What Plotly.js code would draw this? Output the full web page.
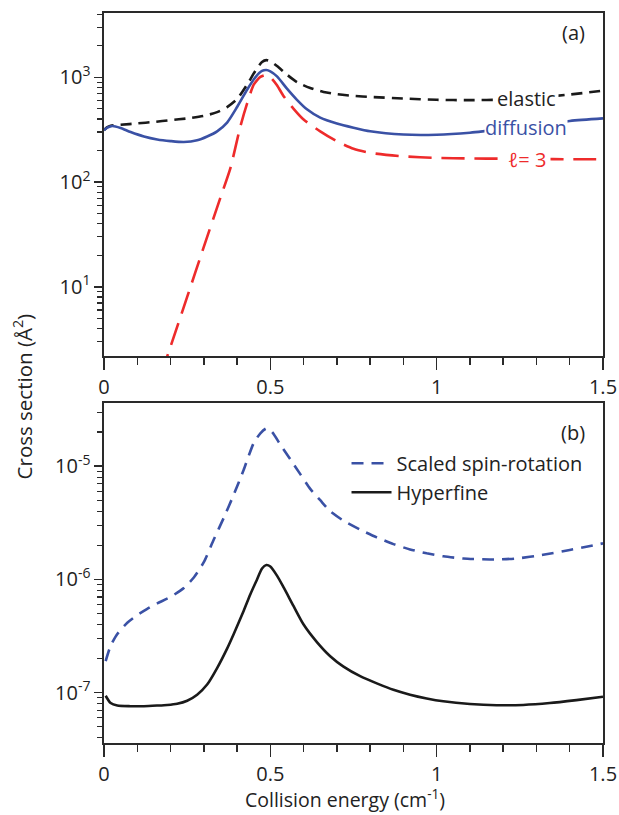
<!DOCTYPE html>
<html>
<head>
<meta charset="utf-8">
<script src="https://cdn.plot.ly/plotly-3.0.1.min.js"></script>
<style>html,body{margin:0;padding:0;background:#fff}#chart{width:619px;height:815px}</style>
</head>
<body>
<div id="chart"></div>
<script>
// ---- Panel (a) data ----
const xElastic = [0, 0.01, 0.02, 0.05, 0.1, 0.15, 0.2, 0.25, 0.3, 0.34, 0.37, 0.4, 0.43, 0.455, 0.475, 0.488, 0.5, 0.52, 0.55, 0.58, 0.62, 0.66, 0.7, 0.75, 0.8, 0.9, 1.0, 1.1, 1.2, 1.3, 1.4, 1.5];
const elastic  = [314, 335, 345, 352, 363, 375, 390, 405, 428, 465, 520, 620, 850, 1150, 1400, 1460, 1420, 1280, 1060, 900, 790, 725, 690, 665, 650, 628, 610, 605, 612, 640, 685, 745];

const xDiffusion = [0, 0.01, 0.025, 0.05, 0.08, 0.12, 0.16, 0.2, 0.24, 0.28, 0.31, 0.34, 0.37, 0.4, 0.43, 0.455, 0.475, 0.488, 0.5, 0.52, 0.55, 0.58, 0.61, 0.65, 0.7, 0.75, 0.8, 0.9, 1.0, 1.1, 1.2, 1.3, 1.4, 1.5];
const diffusion  = [312, 330, 343, 328, 300, 272, 255, 246, 241, 250, 272, 305, 370, 520, 760, 1000, 1150, 1175, 1140, 1020, 780, 610, 495, 412, 362, 330, 305, 284, 283, 296, 320, 350, 383, 405];

const xL3 = [0.17, 0.25, 0.3, 0.35, 0.38, 0.41, 0.43, 0.45, 0.47, 0.485, 0.5, 0.52, 0.54, 0.57, 0.6, 0.65, 0.7, 0.75, 0.8, 0.9, 1.0, 1.1, 1.2, 1.3, 1.4, 1.5];
const l3  = [1.4, 8, 24, 71, 136, 340, 560, 850, 1010, 1050, 1000, 840, 660, 500, 395, 305, 245, 208, 190, 176, 170, 168, 167, 166, 165, 165];

// ---- Panel (b) data ----
const xSpinRot = [0.005, 0.02, 0.04, 0.07, 0.1, 0.13, 0.16, 0.2, 0.24, 0.27, 0.3, 0.33, 0.36, 0.39, 0.42, 0.45, 0.47, 0.488, 0.505, 0.53, 0.56, 0.59, 0.62, 0.65, 0.68, 0.72, 0.77, 0.82, 0.87, 0.92, 0.97, 1.02, 1.08, 1.16, 1.24, 1.32, 1.4, 1.5];
const spinRot  = [1.9e-7, 2.6e-7, 3.3e-7, 4.15e-7, 4.85e-7, 5.5e-7, 6.15e-7, 7.0e-7, 8.4e-7, 1.04e-6, 1.42e-6, 2.25e-6, 3.5e-6, 5.6e-6, 9.3e-6, 1.6e-5, 1.95e-5, 2.15e-5, 2.0e-5, 1.55e-5, 1.15e-5, 8.5e-6, 6.3e-6, 5.0e-6, 4.0e-6, 3.3e-6, 2.75e-6, 2.35e-6, 2.05e-6, 1.84e-6, 1.7e-6, 1.6e-6, 1.53e-6, 1.5e-6, 1.53e-6, 1.65e-6, 1.82e-6, 2.08e-6];

const xHyperfine = [0.005, 0.02, 0.04, 0.08, 0.12, 0.16, 0.19, 0.22, 0.25, 0.28, 0.31, 0.34, 0.37, 0.39, 0.42, 0.44, 0.46, 0.475, 0.488, 0.5, 0.52, 0.54, 0.57, 0.6, 0.64, 0.68, 0.72, 0.77, 0.82, 0.87, 0.92, 0.97, 1.02, 1.1, 1.18, 1.26, 1.34, 1.42, 1.5];
const hyperfine  = [9.4e-8, 8.1e-8, 7.7e-8, 7.6e-8, 7.6e-8, 7.7e-8, 7.8e-8, 8.0e-8, 8.5e-8, 9.6e-8, 1.18e-7, 1.65e-7, 2.45e-7, 3.3e-7, 5.3e-7, 7.4e-7, 1.0e-6, 1.25e-6, 1.34e-6, 1.3e-6, 1.08e-6, 8.5e-7, 5.8e-7, 4.0e-7, 2.8e-7, 2.1e-7, 1.7e-7, 1.4e-7, 1.21e-7, 1.06e-7, 9.6e-8, 8.9e-8, 8.4e-8, 7.95e-8, 7.75e-8, 7.8e-8, 8.1e-8, 8.6e-8, 9.2e-8];

// ---- Tick labels ----
const xTickVals = [0, 0.5, 1, 1.5];
const xTickText = ['0', '0.5', '1', '1.5'];
const xMinorVals = [0.1, 0.2, 0.3, 0.4, 0.6, 0.7, 0.8, 0.9, 1.1, 1.2, 1.3, 1.4];
const yaTickVals = [10, 100, 1000];
const yaTickText = ['10<sup>1</sup>', '10<sup>2</sup>', '10<sup>3</sup>'];
const ybTickVals = [1e-7, 1e-6, 1e-5];
const ybTickText = ['10<sup>-7</sup>', '10<sup>-6</sup>', '10<sup>-5</sup>'];
const mant = [2, 3, 4, 5, 6, 7, 8, 9];
const yaMinorVals = [];
[1, 10, 100, 1000].forEach(d => mant.forEach(m => yaMinorVals.push(m * d)));
const ybMinorVals = [];
[1e-8, 1e-7, 1e-6, 1e-5].forEach(d => mant.forEach(m => ybMinorVals.push(m * d)));

const BLUE = '#3a51a5', RED = '#ee2b2b', BLACK = '#1a1a1a';
const FONT = 'Open Sans, Noto Sans, sans-serif';

const traces = [
  {x: xElastic, y: elastic, xaxis: 'x', yaxis: 'y', mode: 'lines', showlegend: false,
   line: {color: BLACK, width: 2.6, dash: '11px,7px', shape: 'spline', smoothing: 0.7}},
  {x: xL3, y: l3, xaxis: 'x', yaxis: 'y', mode: 'lines', showlegend: false,
   line: {color: RED, width: 2.6, dash: '23px,10px', shape: 'spline', smoothing: 0.6}},
  {x: xDiffusion, y: diffusion, xaxis: 'x', yaxis: 'y', mode: 'lines', showlegend: false,
   line: {color: BLUE, width: 2.6, shape: 'spline', smoothing: 0.7}},
  {x: xSpinRot, y: spinRot, xaxis: 'x2', yaxis: 'y2', mode: 'lines', name: 'Scaled spin-rotation',
   line: {color: BLUE, width: 2.6, dash: '12px,8px', shape: 'spline', smoothing: 0.6}},
  {x: xHyperfine, y: hyperfine, xaxis: 'x2', yaxis: 'y2', mode: 'lines', name: 'Hyperfine',
   line: {color: BLACK, width: 2.6, shape: 'spline', smoothing: 0.7}}
];

const axisCommon = {
  showgrid: false, zeroline: false, showline: true, linecolor: '#2a2a2a', linewidth: 1.6,
  mirror: true, ticks: 'outside', tickcolor: '#2a2a2a', tickwidth: 1.5,
  tickfont: {family: FONT, size: 20, color: '#222'}, automargin: false
};

function xAxis(anchor) {
  return Object.assign({}, axisCommon, {
    anchor: anchor, range: [0, 1.5], tickmode: 'array', tickvals: xTickVals, ticktext: xTickText,
    ticklen: 12,
    minor: {tickmode: 'array', tickvals: xMinorVals, ticks: 'outside', ticklen: 7, tickcolor: '#2a2a2a', tickwidth: 1.5}
  });
}
function yAxis(anchor, domain, range, tv, tt, mv) {
  return Object.assign({}, axisCommon, {
    anchor: anchor, type: 'log', domain: domain, range: range, tickmode: 'array', tickvals: tv, ticktext: tt,
    ticklen: 8,
    minor: {tickmode: 'array', tickvals: mv, ticks: 'outside', ticklen: 5, tickcolor: '#2a2a2a', tickwidth: 1.2}
  });
}

const layout = {
  width: 619, height: 815,
  margin: {l: 104, r: 16, t: 13, b: 72},
  paper_bgcolor: '#fff', plot_bgcolor: '#fff',
  font: {family: FONT, size: 20, color: '#222'},
  xaxis: Object.assign(xAxis('y'), {domain: [0, 1]}),
  yaxis: yAxis('x', [0.530, 1], [0.338, 3.614], yaTickVals, yaTickText, yaMinorVals),
  xaxis2: Object.assign(xAxis('y2'), {domain: [0, 1]}),
  yaxis2: yAxis('x2', [0, 0.466], [-7.444, -4.441], ybTickVals, ybTickText, ybMinorVals),
  showlegend: true,
  legend: {x: 0.486, y: 0.41, xanchor: 'left', yanchor: 'top', bgcolor: 'rgba(0,0,0,0)',
           font: {family: FONT, size: 20, color: '#222'}, itemwidth: 40, tracegroupgap: 0},
  annotations: [
    {xref: 'paper', yref: 'paper', x: 0.94, y: 0.973, text: '(a)', showarrow: false,
     font: {size: 20, family: FONT, color: '#222'}, xanchor: 'center', yanchor: 'middle'},
    {xref: 'paper', yref: 'paper', x: 0.94, y: 0.426, text: '(b)', showarrow: false,
     font: {size: 20, family: FONT, color: '#222'}, xanchor: 'center', yanchor: 'middle'},
    {xref: 'x', yref: 'y', x: 1.269, y: 2.793, text: 'elastic', showarrow: false, bgcolor: '#fff', borderpad: 2,
     font: {size: 20, family: FONT, color: '#222'}, xanchor: 'center', yanchor: 'middle'},
    {xref: 'x', yref: 'y', x: 1.269, y: 2.525, text: 'diffusion', showarrow: false, bgcolor: '#fff', borderpad: 0,
     font: {size: 20, family: FONT, color: BLUE}, xanchor: 'center', yanchor: 'middle'},
    {xref: 'x', yref: 'y', x: 1.272, y: 2.22, text: 'ℓ= 3', showarrow: false, bgcolor: '#fff', borderpad: 4,
     font: {size: 20, family: FONT, color: RED}, xanchor: 'center', yanchor: 'middle'},
    {xref: 'paper', yref: 'paper', x: -0.162, y: 0.475, text: 'Cross section (Å<sup>2</sup>)', showarrow: false,
     textangle: -90, font: {size: 20.5, family: FONT, color: '#222'}, xanchor: 'center', yanchor: 'middle'},
    {xref: 'paper', yref: 'paper', x: 0.483, y: -0.0979, text: 'Collision energy (cm<sup>-1</sup>)', showarrow: false,
     borderpad: 0, font: {size: 19.5, family: FONT, color: '#222'}, xanchor: 'center', yanchor: 'bottom'}
  ]
};

Plotly.newPlot('chart', traces, layout, {displayModeBar: false, staticPlot: true});
</script>
</body>
</html>
